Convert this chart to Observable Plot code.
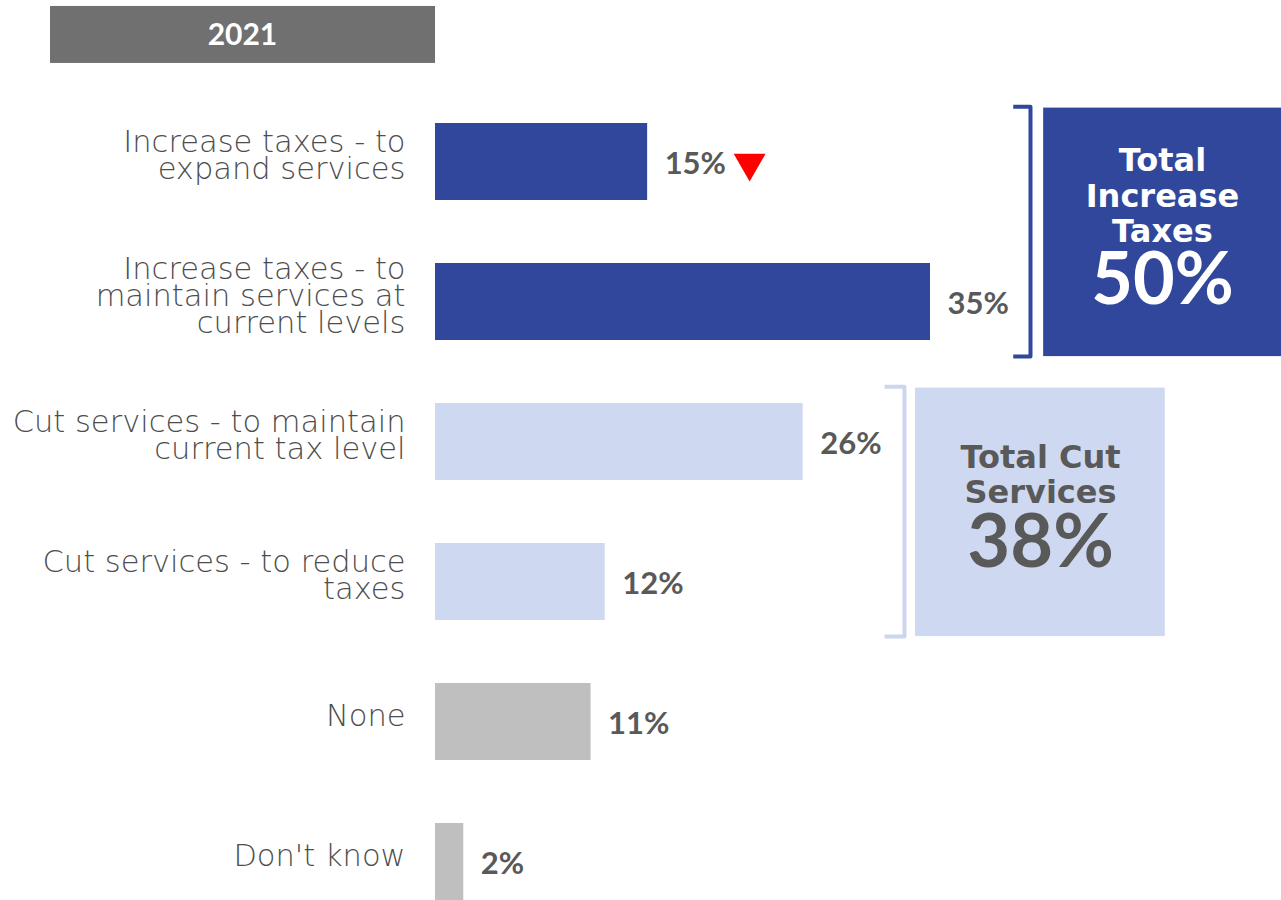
<!DOCTYPE html>
<html>
<head>
<meta charset="utf-8">
<script src="https://cdn.jsdelivr.net/npm/d3@7"></script>
<script src="https://cdn.jsdelivr.net/npm/@observablehq/plot@0.6"></script>
<style>
  html, body { margin: 0; padding: 0; background: #fff; }
  #chart svg { display: block; }
</style>
</head>
<body>
<div id="chart"></div>
<script>
// ---- data ----
const yearLabel = "2021";
const categories = [
  "Increase taxes - to\nexpand services",
  "Increase taxes - to\nmaintain services at\ncurrent levels",
  "Cut services - to maintain\ncurrent tax level",
  "Cut services - to reduce\ntaxes",
  "None",
  "Don't know"
];
const values = [15, 35, 26, 12, 11, 2];
const groups = ["increase", "increase", "cut", "cut", "other", "other"];
const changes = ["down", "", "", "", "", ""];
const totalLabels = ["Total\nIncrease\nTaxes", "Total Cut\nServices"];
const totalValues = [50, 38];
const totalGroups = ["increase", "cut"];

// ---- styles ----
const barFill = {increase: "#31479c", cut: "#cfd8f1", other: "#bfbfbf"};
const textGray = "#595959";
const labelFont = "'DejaVu Sans', sans-serif";
const boldFont = "Lato, 'Open Sans', sans-serif";

const rows = categories.map((c, i) => ({i, category: c, value: values[i], group: groups[i], change: changes[i]}));
const totals = totalLabels.map((l, k) => {
  const idx = rows.filter(r => r.group === totalGroups[k]).map(r => r.i);
  return {label: l, value: totalValues[k], group: totalGroups[k], first: d3.min(idx), last: d3.max(idx)};
});

// layout helpers (in scale units / pixels)
const boxLayout = {
  increase: {x1: 43.0, x2: 60, cx: 51.4, bx: 42.07, tx: 40.85, fill: "#31479c", text: "#ffffff", stroke: "#31479c", valueSize: 72, titleDy: -37, valueDy: 49},
  cut:      {x1: 33.94, x2: 51.6, cx: 42.78, bx: 33.16, tx: 31.75, fill: "#cfd8f1", text: textGray, stroke: "#cdd6f0", valueSize: 74, titleDy: -38, valueDy: 31}
};
const boxTop = d => d.first - 0.385;
const boxBottom = d => d.last + 0.39;
const boxMid = d => (boxTop(d) + boxBottom(d)) / 2;

const bracketPts = totals.flatMap(d => {
  const L = boxLayout[d.group];
  return [
    {g: d.group, x: L.tx, y: boxTop(d) - 0.01},
    {g: d.group, x: L.bx, y: boxTop(d) - 0.01},
    {g: d.group, x: L.bx, y: boxBottom(d)},
    {g: d.group, x: L.tx, y: boxBottom(d)}
  ];
});

const downTriangle = {
  draw(context, size) {
    const k = Math.sqrt(size / Math.PI);
    context.moveTo(-1.33 * k, -0.78 * k);
    context.lineTo(1.33 * k, -0.78 * k);
    context.lineTo(0, 1.55 * k);
    context.closePath();
  }
};

const totalMarks = totalGroups.flatMap(g => {
  const sel = totals.filter(d => d.group === g);
  const L = boxLayout[g];
  return [
    Plot.text(sel, {x: L.cx, y: boxMid, dy: L.titleDy, text: "label", fill: L.text, fontFamily: labelFont, fontWeight: "bold", fontSize: 32, lineHeight: 1.1, textAnchor: "middle", lineAnchor: "middle"}),
    Plot.text(sel, {x: L.cx, y: boxMid, dy: L.valueDy, text: d => d.value + "%", fill: L.text, fontFamily: boldFont, fontWeight: "bold", fontSize: L.valueSize, textAnchor: "middle", lineAnchor: "middle"})
  ];
});

const chart = Plot.plot({
  width: 1281,
  height: 900,
  margin: 0,
  style: {fontFamily: boldFont, background: "#fff"},
  x: {domain: [0, 35], range: [435, 930], axis: null},
  y: {domain: [0, 5], range: [161.5, 861.5], axis: null},
  marks: [
    // year header
    Plot.rect([yearLabel], {x1: -27.22, x2: 0, y1: -1.111, y2: -0.704, fill: "#707070"}),
    Plot.text([yearLabel], {x: -13.65, y: -0.905, text: d => d, fill: "#fff", fontFamily: boldFont, fontWeight: "bold", fontSize: 30, textAnchor: "middle"}),
    // bars
    Plot.rect(rows, {x1: 0, x2: "value", y1: d => d.i - 0.275, y2: d => d.i + 0.275, fill: d => barFill[d.group]}),
    // category labels
    Plot.text(rows, {x: 0, y: "i", text: "category", dx: -30, dy: -5, textAnchor: "end", lineAnchor: "middle", fontFamily: labelFont, fontWeight: 300, fontSize: 30.5, lineHeight: 0.885, fill: "#4d4d4d"}),
    // value labels
    Plot.text(rows, {x: "value", y: "i", text: d => d.value + "%", dx: 17, dy: 2, textAnchor: "start", fontFamily: boldFont, fontWeight: "bold", fontSize: 31, fill: textGray}),
    // change marker
    Plot.dot(rows.filter(d => d.change === "down"), {x: "value", y: "i", symbol: downTriangle, r: 12, fill: "#ff0000", stroke: "none", dx: 102, dy: 1}),
    // brackets
    Plot.line(bracketPts, {x: "x", y: "y", z: "g", stroke: d => boxLayout[d.g].stroke, strokeWidth: 4, strokeLinejoin: "round", strokeLinecap: "butt", curve: "linear"}),
    // total boxes
    Plot.rect(totals, {x1: d => boxLayout[d.group].x1, x2: d => boxLayout[d.group].x2, y1: boxTop, y2: boxBottom, fill: d => boxLayout[d.group].fill}),
    ...totalMarks
  ]
});
document.getElementById("chart").append(chart);
</script>
</body>
</html>
